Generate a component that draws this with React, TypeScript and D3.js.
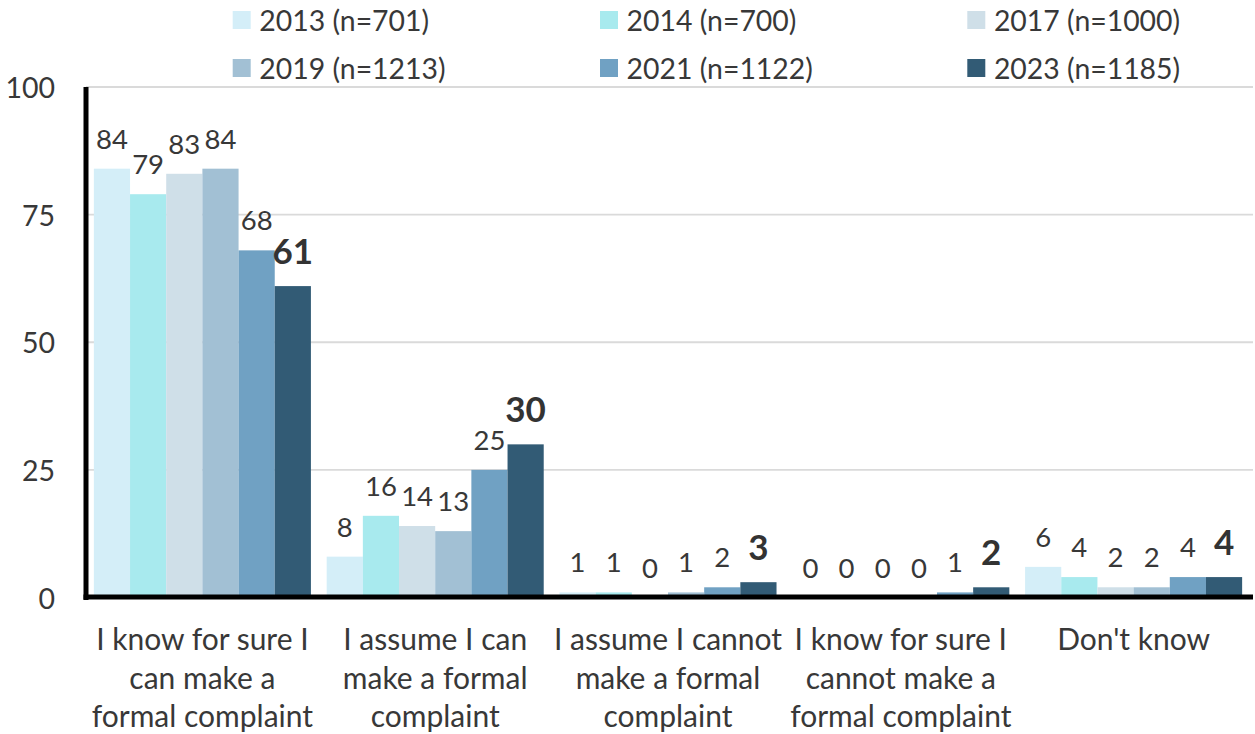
import React from "react";
import * as d3 from "d3";

// Survey categories (x axis), one label line per entry
const categories: string[][] = [
  ["I know for sure I", "can make a", "formal complaint"],
  ["I assume I can", "make a formal", "complaint"],
  ["I assume I cannot", "make a formal", "complaint"],
  ["I know for sure I", "cannot make a", "formal complaint"],
  ["Don't know"],
];

// Survey waves
const years = ["2013", "2014", "2017", "2019", "2021", "2023"];
const sampleSizes = [701, 700, 1000, 1213, 1122, 1185];
const colors = ["#d4eef8", "#a8eaee", "#cfdfe8", "#a2c0d4", "#70a1c3", "#325b75"];

// Percentages per wave, in category order
const v2013 = [84, 8, 1, 0, 6];
const v2014 = [79, 16, 1, 0, 4];
const v2017 = [83, 14, 0, 0, 2];
const v2019 = [84, 13, 1, 0, 2];
const v2021 = [68, 25, 2, 1, 4];
const v2023 = [61, 30, 3, 2, 4];
const seriesValues = [v2013, v2014, v2017, v2019, v2021, v2023];

const yTicks = [0, 25, 50, 75, 100];

const W = 1255;
const H = 734;
const FONT = "Lato, 'Open Sans', sans-serif";
const TEXT = "#383838";

export default function App() {
  const x0 = d3
    .scaleBand<number>()
    .domain(d3.range(categories.length))
    .range([86, 1250])
    .paddingInner(0.0677)
    .paddingOuter(0.0338);
  const x1 = d3
    .scaleBand<number>()
    .domain(d3.range(years.length))
    .range([0, x0.bandwidth()]);
  const y = d3.scaleLinear().domain([0, 100]).range([597.5, 87]);
  const fmt = d3.format(".0f");

  const lastSeries = years.length - 1;

  return (
    <svg
      width={W}
      height={H}
      style={{ position: "absolute", left: 0, top: 0, background: "#fff" }}
      fontFamily={FONT}
    >
      {/* legend */}
      {years.map((yr, i) => {
        const col = i % 3;
        const row = Math.floor(i / 3);
        const sx = 232.7 + col * 367.3;
        const cy = 20 + row * 48;
        return (
          <g key={yr}>
            <rect x={sx} y={cy - 9} width={18} height={18} fill={colors[i]} />
            <text
              x={sx + 26.6}
              y={cy}
              dominantBaseline="central"
              fontSize={28.4}
              fill={TEXT}
            >
              {`${yr} (n=${sampleSizes[i]})`}
            </text>
          </g>
        );
      })}

      {/* gridlines */}
      {yTicks
        .filter((t) => t > 0)
        .map((t) => (
          <line
            key={t}
            x1={86}
            x2={1253}
            y1={y(t)}
            y2={y(t)}
            stroke="#dadada"
            strokeWidth={1.8}
          />
        ))}

      {/* y tick labels */}
      {yTicks.map((t) => (
        <text
          key={t}
          x={55}
          y={y(t)}
          textAnchor="end"
          dominantBaseline="central"
          fontSize={28.5}
          fill={TEXT}
        >
          {t}
        </text>
      ))}

      {/* bars */}
      {categories.map((_, ci) => (
        <g key={ci} transform={`translate(${x0(ci)},0)`}>
          {seriesValues.map((vals, si) => {
            const v = vals[ci];
            return (
              <rect
                key={si}
                x={x1(si)}
                y={y(v)}
                width={x1.bandwidth()}
                height={y(0) - y(v)}
                fill={colors[si]}
              />
            );
          })}
        </g>
      ))}

      {/* axis lines */}
      <line x1={86} x2={86} y1={87} y2={600} stroke="#000" strokeWidth={5} />
      <line x1={83.5} x2={1253} y1={597} y2={597} stroke="#000" strokeWidth={5} />

      {/* data labels */}
      {categories.map((_, ci) => (
        <g key={ci} transform={`translate(${x0(ci)},0)`}>
          {seriesValues.map((vals, si) => {
            const v = vals[ci];
            const bold = si === lastSeries;
            return (
              <text
                key={si}
                x={(x1(si) as number) + x1.bandwidth() / 2}
                y={y(v) - (bold ? 22 : 20)}
                textAnchor="middle"
                fontSize={bold ? 35 : 27.5}
                fontWeight={bold ? 700 : 400}
                fill={bold ? "#333" : TEXT}
              >
                {fmt(v)}
              </text>
            );
          })}
        </g>
      ))}

      {/* category labels */}
      {categories.map((lines, ci) => (
        <text
          key={ci}
          x={(x0(ci) as number) + x0.bandwidth() / 2}
          textAnchor="middle"
          fontSize={30}
          fill={TEXT}
        >
          {lines.map((ln, li) => (
            <tspan key={li} x={(x0(ci) as number) + x0.bandwidth() / 2} y={650 + li * 38.5}>
              {ln}
            </tspan>
          ))}
        </text>
      ))}
    </svg>
  );
}
